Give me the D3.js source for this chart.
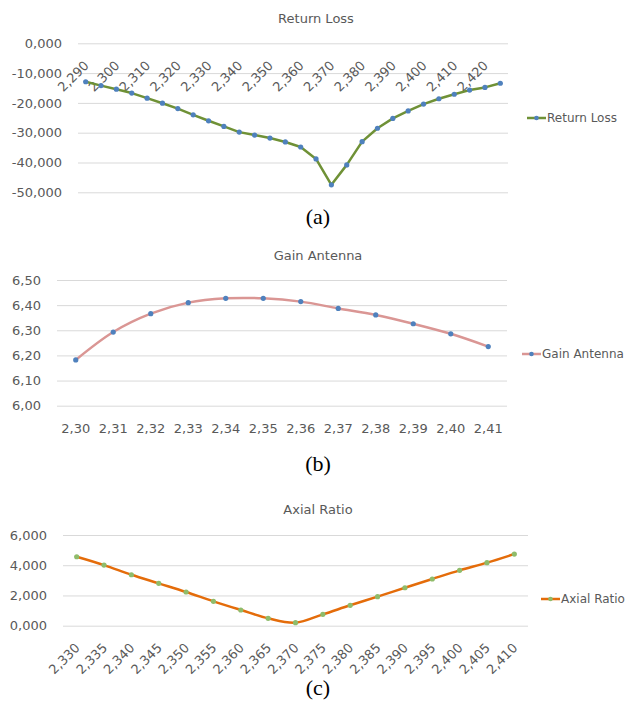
<!DOCTYPE html>
<html>
<head>
<meta charset="utf-8">
<script src="https://cdn.jsdelivr.net/npm/d3@7"></script>
<style>
  html, body { margin: 0; padding: 0; background: #ffffff; }
  svg { display: block; }
</style>
</head>
<body>
<svg id="chart" width="627" height="702"></svg>
<script>
// ---------- DATA ----------
const rlFreq = ["2,290","2,295","2,300","2,305","2,310","2,315","2,320","2,325","2,330","2,335","2,340","2,345","2,350","2,355",
                "2,360","2,365","2,370","2,375","2,380","2,385","2,390","2,395","2,400","2,405","2,410","2,415","2,420","2,425"];
const rlValues = [-12.9,-14.2,-15.4,-16.7,-18.4,-20.1,-21.9,-24.0,-26.0,-27.9,-29.8,-30.8,-31.8,-33.1,
                  -34.8,-38.8,-47.5,-40.8,-33.0,-28.5,-25.2,-22.7,-20.4,-18.6,-17.1,-15.7,-14.8,-13.4];
const rlTicks = [0,-10,-20,-30,-40,-50];

const gainFreq = ["2,30","2,31","2,32","2,33","2,34","2,35","2,36","2,37","2,38","2,39","2,40","2,41"];
const gainValues = [6.182,6.293,6.366,6.410,6.427,6.427,6.414,6.387,6.361,6.326,6.286,6.235];
const gainTicks = [6.00,6.10,6.20,6.30,6.40,6.50];

const arFreq = ["2,330","2,335","2,340","2,345","2,350","2,355","2,360","2,365","2,370","2,375","2,380","2,385","2,390","2,395","2,400","2,405","2,410"];
const arValues = [4.56,4.01,3.37,2.80,2.23,1.61,1.04,0.49,0.20,0.75,1.35,1.92,2.51,3.09,3.66,4.17,4.74];
const arTicks = [0,2,4,6];

// ---------- HELPERS ----------
const loc = d3.formatLocale({decimal: ",", thousands: ".", grouping: [3], currency: ["", ""], minus: "-"});
const svg = d3.select("#chart");
const FONT = "'DejaVu Sans', sans-serif";
const TXT = "#595959";
const GRID = "#d9d9d9";

function panel(cfg) {
  const g = svg.append("g");
  const x = d3.scaleBand().domain(cfg.cats).range([cfg.x0, cfg.x1]).padding(0);
  const y = d3.scaleLinear().domain(cfg.domain).range([cfg.yb, cfg.yt]);
  const fmt = loc.format(cfg.fmt);

  // title
  g.append("text").attr("x", cfg.titleX).attr("y", cfg.titleY)
    .attr("text-anchor", "middle").attr("dominant-baseline", "central")
    .attr("font-family", FONT).attr("font-size", 13).attr("fill", TXT)
    .text(cfg.title);

  // grid + y axis
  const ya = d3.axisLeft(y).tickValues(cfg.ticks).tickFormat(fmt)
    .tickSize(-(cfg.x1 - cfg.x0)).tickPadding(16);
  const yg = g.append("g").attr("transform", `translate(${cfg.x0},0)`).call(ya);
  yg.select(".domain").remove();
  yg.selectAll(".tick line").attr("stroke", GRID).attr("stroke-width", 1);
  yg.selectAll(".tick text").attr("font-family", FONT).attr("font-size", 13)
    .attr("fill", TXT);

  // x axis labels
  const xa = d3.axisBottom(x).tickSize(0).tickFormat((d, i) => cfg.labelFilter(i) ? d : "");
  const xg = g.append("g").attr("transform", `translate(0,${cfg.axisY})`).call(xa);
  xg.select(".domain").remove();
  xg.selectAll(".tick text").attr("font-family", FONT).attr("font-size", 13).attr("fill", TXT);
  if (cfg.rotate) {
    xg.selectAll(".tick text")
      .attr("text-anchor", "end").attr("dy", null).attr("y", null)
      .attr("transform", `translate(4,${cfg.labelOffset}) rotate(-45)`);
  } else {
    xg.selectAll(".tick text").attr("y", cfg.labelOffset).attr("dy", "0.35em");
  }

  // line
  const cx = d => x(d) + x.bandwidth() / 2;
  const pts = cfg.cats.map((c, i) => [cx(c), y(cfg.values[i])]);
  const line = d3.line().curve(cfg.curve);
  g.append("path").attr("d", line(pts)).attr("fill", "none")
    .attr("stroke", cfg.lineColor).attr("stroke-width", 2.5)
    .attr("stroke-linejoin", "round").attr("stroke-linecap", "round");
  g.selectAll("circle.m").data(pts).enter().append("circle")
    .attr("cx", d => d[0]).attr("cy", d => d[1]).attr("r", 2.6)
    .attr("fill", cfg.markerColor);

  // legend
  const L = cfg.legend;
  g.append("line").attr("x1", L.x).attr("x2", L.x + 19).attr("y1", L.y).attr("y2", L.y)
    .attr("stroke", cfg.lineColor).attr("stroke-width", 2.5);
  g.append("circle").attr("cx", L.x + 9.5).attr("cy", L.y).attr("r", 2.3).attr("fill", cfg.markerColor);
  g.append("text").attr("x", L.x + 20).attr("y", L.y).attr("dominant-baseline", "central")
    .attr("font-family", FONT).attr("font-size", 12).attr("fill", TXT).text(cfg.title);

  // caption
  g.append("text").attr("x", 318).attr("y", cfg.capY).attr("text-anchor", "middle")
    .attr("dominant-baseline", "central")
    .attr("font-family", "'Liberation Serif', 'Times New Roman', serif").attr("font-size", 22)
    .attr("fill", "#000").text(cfg.caption);
}

panel({
  title: "Return Loss", titleX: 316, titleY: 18,
  cats: rlFreq, values: rlValues, ticks: rlTicks, domain: [-50, 0], fmt: ".3f",
  x0: 78, x1: 508, yt: 43.3, yb: 192.3,
  axisY: 43.3, rotate: true, labelOffset: 23, labelFilter: i => i % 2 === 0,
  curve: d3.curveLinear, lineColor: "#6f9136", markerColor: "#4f81bd",
  legend: {x: 527, y: 118}, caption: "(a)", capY: 216
});

panel({
  title: "Gain Antenna", titleX: 318, titleY: 255,
  cats: gainFreq, values: gainValues, ticks: gainTicks, domain: [6.0, 6.5], fmt: ".2f",
  x0: 57, x1: 507, yt: 280, yb: 405.7,
  axisY: 405.7, rotate: false, labelOffset: 23, labelFilter: i => true,
  curve: d3.curveCatmullRom.alpha(0.5), lineColor: "#da9694", markerColor: "#4f81bd",
  legend: {x: 522, y: 354}, caption: "(b)", capY: 463
});

panel({
  title: "Axial Ratio", titleX: 318, titleY: 509,
  cats: arFreq, values: arValues, ticks: arTicks, domain: [0, 6], fmt: ".3f",
  x0: 63, x1: 528, yt: 535, yb: 625.7,
  axisY: 625.7, rotate: true, labelOffset: 23, labelFilter: i => true,
  curve: d3.curveCatmullRom.alpha(0.5), lineColor: "#e46c0a", markerColor: "#8fbc6b",
  legend: {x: 541, y: 599}, caption: "(c)", capY: 687
});
</script>
</body>
</html>
